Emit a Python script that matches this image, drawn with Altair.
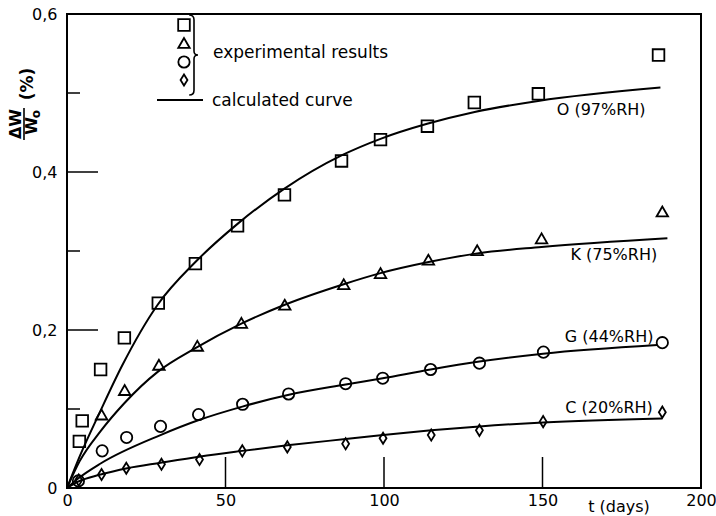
import altair as alt
import pandas as pd

# Moisture uptake ΔW/W0 (%) against exposure time (days), four humidities
names = ["O", "K", "G", "C"]
curve_labels = ["O (97%RH)", "K (75%RH)", "G (44%RH)", "C (20%RH)"]

# experimental results
t_O = [3.9, 4.8, 10.6, 18.1, 28.8, 40.5, 53.8, 68.6, 86.6, 98.9, 113.7, 128.5, 148.7, 186.6]
w_O = [0.059, 0.085, 0.150, 0.190, 0.234, 0.284, 0.332, 0.371, 0.414, 0.441, 0.458, 0.488, 0.499, 0.548]

t_K = [10.9, 18.2, 29.0, 41.1, 55.0, 68.7, 87.3, 98.9, 114.0, 129.4, 149.7, 187.8]
w_K = [0.093, 0.124, 0.156, 0.180, 0.209, 0.232, 0.258, 0.272, 0.289, 0.301, 0.316, 0.350]

t_G = [3.6, 11.1, 18.8, 29.5, 41.5, 55.4, 69.9, 87.9, 99.6, 114.7, 130.1, 150.3, 187.8]
w_G = [0.009, 0.047, 0.064, 0.078, 0.093, 0.106, 0.119, 0.132, 0.139, 0.150, 0.158, 0.172, 0.184]

t_C = [3.7, 10.9, 18.7, 29.8, 41.8, 55.3, 69.5, 87.9, 99.7, 114.9, 130.1, 150.2, 187.8]
w_C = [0.010, 0.017, 0.025, 0.030, 0.036, 0.047, 0.052, 0.056, 0.063, 0.067, 0.073, 0.084, 0.096]

# calculated curves
ct_O = [0, 4.0, 10.6, 17.4, 28.6, 40.5, 53.7, 68.6, 86.6, 98.9, 113.6, 128.6, 148.6, 187.2]
cw_O = [0, 0.040, 0.098, 0.155, 0.232, 0.286, 0.334, 0.379, 0.421, 0.442, 0.461, 0.476, 0.490, 0.507]

ct_K = [0, 4.0, 10.6, 18.0, 28.6, 40.5, 55.0, 68.7, 87.3, 98.9, 114.1, 129.4, 149.7, 189.4]
cw_K = [0, 0.034, 0.072, 0.107, 0.147, 0.177, 0.208, 0.232, 0.258, 0.272, 0.286, 0.297, 0.305, 0.316]

ct_G = [0, 3.5, 10.6, 29.5, 41.6, 55.3, 70.0, 87.9, 99.6, 114.7, 130.1, 150.2, 186.2]
cw_G = [0, 0.012, 0.031, 0.067, 0.086, 0.103, 0.118, 0.131, 0.139, 0.150, 0.160, 0.170, 0.181]

ct_C = [0, 3.5, 10.6, 19.0, 29.5, 42.1, 55.3, 69.5, 87.9, 99.7, 114.9, 130.1, 150.2, 187.8]
cw_C = [0, 0.008, 0.017, 0.025, 0.032, 0.040, 0.047, 0.054, 0.062, 0.067, 0.073, 0.078, 0.083, 0.088]

# curve label anchors (days, ΔW/W0)
lab_t = [168.5, 172.5, 171.0, 171.0]
lab_w = [0.479, 0.295, 0.191, 0.101]

x_ticks = [0, 50, 100, 150, 200]
y_ticks = [0, 0.2, 0.4, 0.6]
y_minor = [0.1, 0.3, 0.5]

FONT = "DejaVu Sans"
W, H = 634, 474
DIAMOND = "M0,-1L0.62,0L0,1L-0.62,0Z"
BRACE = "M-0.12,-1Q0,-1 0,-0.88L0,-0.1Q0,0 0.1,0Q0,0 0,0.1L0,0.88Q0,1 -0.12,1"

pts = pd.DataFrame(
    [{"t": t, "w": w, "s": n} for n, ts, ws in
     [("O", t_O, w_O), ("K", t_K, w_K), ("G", t_G, w_G), ("C", t_C, w_C)]
     for t, w in zip(ts, ws)]
)
curves = pd.DataFrame(
    [{"t": t, "w": w, "s": n} for n, ts, ws in
     [("O", ct_O, cw_O), ("K", ct_K, cw_K), ("G", ct_G, cw_G), ("C", ct_C, cw_C)]
     for t, w in zip(ts, ws)]
)
labels = pd.DataFrame({"t": lab_t, "w": lab_w, "text": curve_labels})

xs = alt.Scale(domain=[0, 200], nice=False, zero=False)
ys = alt.Scale(domain=[0, 0.6], nice=False, zero=False)
shape_scale = alt.Scale(domain=names, range=["square", "triangle-up", "circle", DIAMOND])
size_scale = alt.Scale(domain=names, range=[135, 125, 140, 200])

X_AX = alt.Axis(
    values=x_ticks, ticks=False, domain=False, grid=False, title=None,
    labelFont=FONT, labelFontSize=16, labelColor="black", labelPadding=4,
    labelFlush=False)
Y_AX = alt.Axis(
    values=y_ticks, ticks=False, domain=False, grid=False, title=None,
    labelFont=FONT, labelFontSize=16, labelColor="black", labelPadding=10,
    labelFlush=False,
    labelExpr="datum.value == 0 ? '0' : replace(format(datum.value, '.1f'), '.', ',')")


def ex(field):
    return alt.X(field, scale=xs, axis=X_AX, title=None)


def ey(field):
    return alt.Y(field, scale=ys, axis=Y_AX, title=None)


lines = alt.Chart(curves).mark_line(
    color="black", strokeWidth=2, interpolate="monotone"
).encode(x=ex("t:Q"), y=ey("w:Q"), detail="s:N")

markers = alt.Chart(pts).mark_point(
    filled=False, color="black", strokeWidth=1.8, opacity=1
).encode(
    x=ex("t:Q"), y=ey("w:Q"),
    shape=alt.Shape("s:N", scale=shape_scale, legend=None),
    size=alt.Size("s:N", scale=size_scale, legend=None),
)

curve_text = alt.Chart(labels).mark_text(
    font=FONT, fontSize=16, color="black", align="center", baseline="middle"
).encode(x=ex("t:Q"), y=ey("w:Q"), text="text:N")

# inward tick marks
y_major_df = pd.DataFrame({"v": [v for v in y_ticks if 0 < v < 0.6]})
y_minor_df = pd.DataFrame({"v": y_minor})
x_major_df = pd.DataFrame({"v": [v for v in x_ticks if 0 < v < 200]})

y_major = alt.Chart(y_major_df).mark_rule(color="black", strokeWidth=1.5).encode(
    y=ey("v:Q"), x=alt.value(0), x2=alt.value(31))
y_min = alt.Chart(y_minor_df).mark_rule(color="black", strokeWidth=1.5).encode(
    y=ey("v:Q"), x=alt.value(0), x2=alt.value(13))
x_major = alt.Chart(x_major_df).mark_rule(color="black", strokeWidth=1.5).encode(
    x=ex("v:Q"), y=alt.value(H), y2=alt.value(H - 31))

one = pd.DataFrame({"k": [0]})

# legend block
leg_syms = pd.DataFrame({"s": names, "yy": [11, 29, 48, 66]})
legend_marks = alt.Chart(leg_syms).mark_point(
    filled=False, color="black", strokeWidth=1.8, opacity=1
).encode(
    x=alt.value(117),
    y=alt.Y("yy:Q", scale=None, axis=None),
    shape=alt.Shape("s:N", scale=shape_scale, legend=None),
    size=alt.Size("s:N", scale=size_scale, legend=None),
)
brace = alt.Chart(one).mark_point(
    shape=BRACE, size=6400, filled=False, color="black", strokeWidth=1.6, opacity=1
).encode(x=alt.value(127), y=alt.value(41))
exp_text = alt.Chart(one).mark_text(
    text="experimental results", font=FONT, fontSize=17, color="black",
    align="left", baseline="middle"
).encode(x=alt.value(146), y=alt.value(39))
leg_line = alt.Chart(one).mark_rule(color="black", strokeWidth=2).encode(
    x=alt.value(90), x2=alt.value(136), y=alt.value(86))
calc_text = alt.Chart(one).mark_text(
    text="calculated curve", font=FONT, fontSize=17, color="black",
    align="left", baseline="middle"
).encode(x=alt.value(145), y=alt.value(87))

# axis titles
x_title = alt.Chart(one).mark_text(
    text="t (days)", font=FONT, fontSize=16, color="black",
    align="center", baseline="middle"
).encode(x=alt.value(552), y=alt.value(493))

y_dw = alt.Chart(one).mark_text(
    text="ΔW", font=FONT, fontSize=16, fontWeight="bold", color="black",
    angle=270, align="center", baseline="middle"
).encode(x=alt.value(-51), y=alt.value(110))
y_bar = alt.Chart(one).mark_rule(color="black", strokeWidth=1.6).encode(
    x=alt.value(-43), y=alt.value(94), y2=alt.value(126))
y_w0 = alt.Chart(one).mark_text(
    text="W", font=FONT, fontSize=16, fontWeight="bold", color="black",
    angle=270, align="center", baseline="middle"
).encode(x=alt.value(-35), y=alt.value(112))
y_sub = alt.Chart(one).mark_text(
    text="o", font=FONT, fontSize=12, fontWeight="bold", color="black",
    angle=270, align="center", baseline="middle"
).encode(x=alt.value(-31), y=alt.value(100))
y_unit = alt.Chart(one).mark_text(
    text="(%)", font=FONT, fontSize=17, fontWeight="bold", color="black",
    angle=270, align="center", baseline="middle"
).encode(x=alt.value(-39), y=alt.value(70))

chart = alt.layer(
    lines, markers, curve_text, y_major, y_min, x_major,
    legend_marks, brace, exp_text, leg_line, calc_text,
    x_title, y_dw, y_bar, y_w0, y_sub, y_unit,
).properties(
    width=W, height=H,
    padding={"left": 67, "top": 14, "right": 15, "bottom": 28},
    autosize=alt.AutoSizeParams(type="none"),
    background="white",
).configure_view(
    stroke="black", strokeWidth=2
)

chart.save("out.html", embed_options={"renderer": "svg", "actions": False})
